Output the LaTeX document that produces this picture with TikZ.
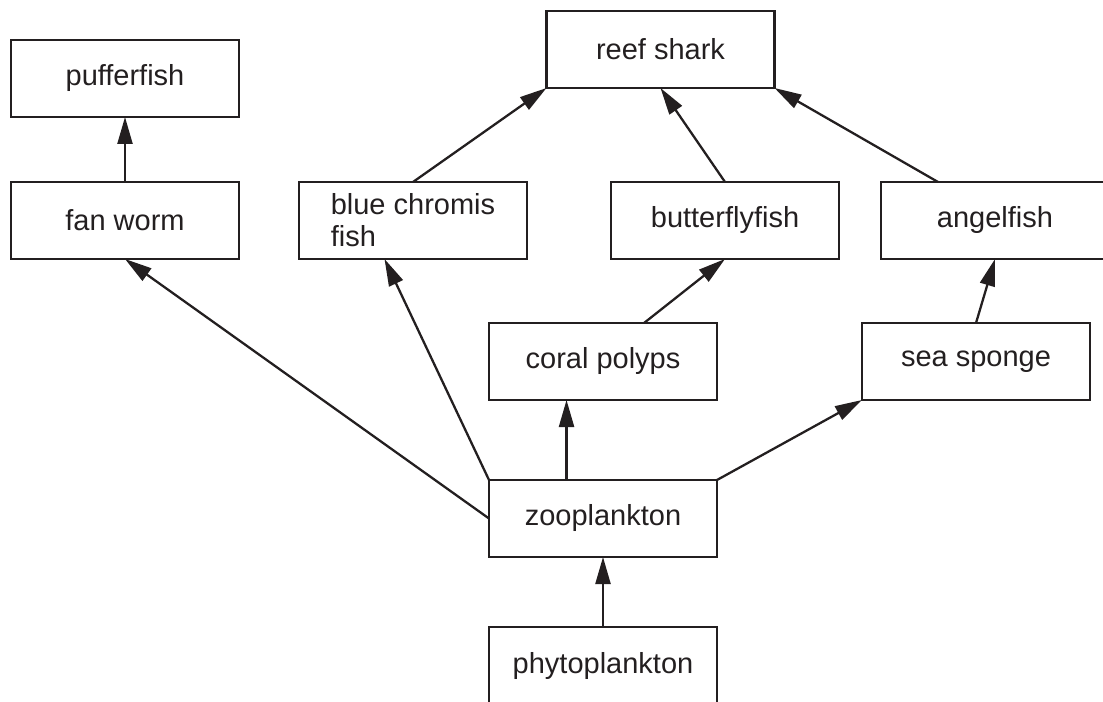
\documentclass[tikz,border=0pt]{standalone}
\usepackage{fontspec}
\setmainfont{Liberation Sans}
\usepackage{tikz}
\usetikzlibrary{arrows.meta,positioning,calc}
\definecolor{ink}{HTML}{231F20}

\begin{document}
\begin{tikzpicture}[
    node distance=1.3cm and 1.2cm,
    every node/.style={font=\fontsize{16.5}{18.2}\selectfont, text=ink},
    box/.style={rectangle, draw=ink, line width=1.4pt, minimum height=1.54cm, minimum width=4.56cm, align=center, inner sep=0pt, outer sep=0pt},
    arrow/.style={-{Triangle[length=0.54cm, width=0.3cm]}, ink, line width=1.3pt}
    ]
    \useasboundingbox (0,0) rectangle (22.06,-14.04);
    \node[box] (A) at (12.06,-13.31) {phytoplankton};
    \node[box, above=1.4cm of A] (B) {zooplankton};
    \node[box, above=1.6cm of B] (C) {coral polyps};
    \node[box, right=2.9cm of C] (D) {sea sponge};
    \node[box, above=1.28cm of C, xshift=-3.8cm, align=left] (E) {blue chromis\\fish};
    \node[box, above=1.28cm of C, xshift=2.44cm] (F) {butterflyfish};
    \node[box, left=of E] (G) {fan worm};
    \node[box, right=0.84cm of F] (H) {angelfish};
    \node[box, above=of G] (I) {pufferfish};
    \node[box, above=1.88cm of F, xshift=-1.29cm] (J) {reef shark};
    \draw[arrow] (A) -- (B);
    \draw[arrow] ($(B.north west)!.34!(B.north east)$) -- ($(C.south west)!.34!(C.south east)$);
    \draw[arrow] (B.north east) -- (D.south west);
    \draw[arrow] (B.north west) -- ($(E.south west)!.375!(E.south east)$);
    \draw[arrow] (B.west) -- (G.south);
    \draw[arrow] ($(C.north west)!.68!(C.north east)$) -- (F.south);
    \draw[arrow] (D.north) -- (H.south);
    \draw[arrow] (G) -- (I);
    \draw[arrow] (E.north) -- (J.south west);
    \draw[arrow] (F.north) -- (J.south);
    \draw[arrow] ($(H.north west)!.25!(H.north east)$) -- (J.south east);
  \end{tikzpicture}
\end{document}
